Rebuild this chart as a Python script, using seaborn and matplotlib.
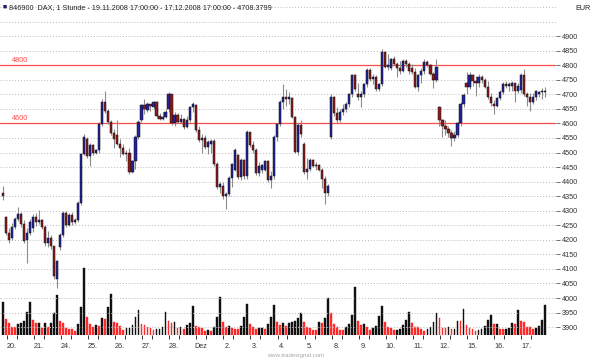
import numpy as np
import pandas as pd
import matplotlib
matplotlib.use("Agg")
import matplotlib.pyplot as plt
import seaborn as sns

# ---------------- data ----------------
day_labels = ["20.", "21.", "24.", "25.", "26.", "27.", "28.", "Dez", "2.", "3.",
              "4.", "5.", "8.", "9.", "10.", "11.", "12.", "15.", "16.", "17."]

opens = [4362,
 4278, 4225, 4205, 4245, 4272, 4290, 4255, 4200, 4225,
 4240, 4278, 4262, 4268, 4245, 4188, 4205, 4178, 4065,
 4175, 4218, 4292, 4252, 4285, 4262, 4268, 4325, 4495,
 4548, 4488, 4525, 4500, 4508, 4598, 4675, 4642, 4605,
 4568, 4560, 4530, 4515, 4495, 4500, 4432, 4470, 4552,
 4610, 4662, 4645, 4665, 4658, 4672, 4625, 4615, 4622,
 4648, 4700, 4600, 4630, 4605, 4615, 4588, 4610, 4655,
 4662, 4578, 4542, 4550, 4518, 4530, 4538, 4462, 4382,
 4385, 4352, 4358, 4412, 4440, 4490, 4415, 4475, 4418,
 4570, 4525, 4510, 4428, 4440, 4440, 4470, 4405, 4418,
 4555, 4598, 4675, 4692, 4685, 4688, 4622, 4502, 4595,
 4530, 4432, 4445, 4475, 4455, 4458, 4440, 4410, 4360,
 4555, 4690, 4635, 4610, 4640, 4650, 4668, 4700, 4765,
 4700, 4690, 4700, 4735, 4785, 4752, 4760, 4718, 4735,
 4845, 4795, 4790, 4820, 4805, 4790, 4780, 4815, 4805,
 4790, 4778, 4725, 4765, 4780, 4812, 4800, 4770, 4748,
 4655, 4612, 4590, 4580, 4568, 4550, 4560, 4600, 4665,
 4740, 4725, 4768, 4745, 4738, 4760, 4750, 4725, 4692,
 4668, 4660, 4688, 4708, 4735, 4728, 4730, 4738, 4712,
 4715, 4765, 4702, 4690, 4672, 4690, 4700, 4708, 4712]

highs = [4384,
 4282, 4240, 4258, 4280, 4312, 4295, 4268, 4242, 4270,
 4288, 4292, 4302, 4272, 4250, 4232, 4215, 4180, 4132,
 4225, 4298, 4300, 4292, 4295, 4275, 4332, 4500, 4565,
 4552, 4534, 4530, 4512, 4605, 4685, 4712, 4648, 4610,
 4580, 4612, 4545, 4530, 4510, 4515, 4475, 4560, 4612,
 4668, 4684, 4672, 4668, 4678, 4676, 4635, 4640, 4648,
 4708, 4702, 4638, 4635, 4632, 4620, 4625, 4660, 4672,
 4668, 4590, 4565, 4560, 4542, 4548, 4545, 4466, 4400,
 4398, 4365, 4418, 4465, 4515, 4495, 4480, 4478, 4578,
 4572, 4540, 4515, 4466, 4462, 4475, 4474, 4438, 4560,
 4602, 4680, 4735, 4718, 4708, 4690, 4625, 4600, 4612,
 4535, 4480, 4480, 4478, 4468, 4462, 4448, 4420, 4392,
 4700, 4695, 4655, 4650, 4665, 4675, 4705, 4770, 4770,
 4740, 4710, 4740, 4790, 4790, 4770, 4765, 4740, 4855,
 4850, 4840, 4825, 4830, 4810, 4815, 4820, 4822, 4810,
 4805, 4790, 4770, 4790, 4820, 4818, 4805, 4778, 4822,
 4660, 4615, 4612, 4590, 4578, 4575, 4605, 4672, 4705,
 4775, 4775, 4770, 4762, 4770, 4765, 4755, 4745, 4705,
 4680, 4692, 4715, 4742, 4745, 4742, 4745, 4740, 4738,
 4772, 4788, 4708, 4705, 4705, 4715, 4712, 4722, 4725]

lows = [4336,
 4215, 4190, 4198, 4238, 4265, 4245, 4190, 4120, 4215,
 4228, 4248, 4255, 4238, 4180, 4175, 4170, 4065, 4035,
 4165, 4210, 4245, 4246, 4250, 4255, 4262, 4318, 4490,
 4480, 4455, 4490, 4495, 4500, 4590, 4635, 4598, 4560,
 4515, 4525, 4485, 4490, 4470, 4425, 4428, 4445, 4545,
 4605, 4632, 4640, 4643, 4650, 4620, 4612, 4612, 4618,
 4640, 4595, 4592, 4600, 4602, 4582, 4585, 4605, 4640,
 4572, 4535, 4500, 4512, 4495, 4500, 4455, 4375, 4360,
 4340, 4305, 4352, 4380, 4435, 4410, 4405, 4410, 4410,
 4520, 4500, 4422, 4420, 4428, 4435, 4400, 4378, 4410,
 4540, 4592, 4650, 4660, 4665, 4618, 4498, 4492, 4555,
 4425, 4410, 4438, 4450, 4440, 4435, 4378, 4322, 4350,
 4548, 4625, 4600, 4605, 4630, 4640, 4655, 4690, 4710,
 4680, 4655, 4690, 4725, 4745, 4735, 4712, 4710, 4728,
 4790, 4785, 4785, 4800, 4760, 4770, 4775, 4795, 4770,
 4770, 4720, 4712, 4740, 4770, 4795, 4765, 4722, 4742,
 4590, 4555, 4560, 4555, 4522, 4540, 4555, 4592, 4655,
 4700, 4718, 4728, 4694, 4725, 4740, 4720, 4685, 4660,
 4632, 4655, 4680, 4700, 4720, 4712, 4712, 4672, 4705,
 4705, 4695, 4660, 4642, 4668, 4682, 4690, 4685, 4692]

closes = [4352,
 4225, 4200, 4245, 4272, 4290, 4255, 4195, 4225, 4262,
 4278, 4262, 4268, 4245, 4188, 4205, 4178, 4075, 4128,
 4218, 4292, 4252, 4285, 4262, 4268, 4325, 4495, 4555,
 4488, 4525, 4500, 4508, 4598, 4675, 4642, 4605, 4568,
 4545, 4530, 4515, 4495, 4500, 4432, 4470, 4552, 4605,
 4662, 4650, 4665, 4660, 4672, 4625, 4615, 4622, 4640,
 4700, 4600, 4630, 4605, 4615, 4588, 4610, 4655, 4668,
 4578, 4542, 4550, 4518, 4535, 4538, 4462, 4382, 4392,
 4352, 4358, 4412, 4460, 4510, 4415, 4475, 4418, 4570,
 4525, 4510, 4428, 4455, 4458, 4470, 4405, 4420, 4555,
 4598, 4675, 4692, 4685, 4690, 4622, 4502, 4595, 4565,
 4432, 4445, 4475, 4455, 4458, 4440, 4410, 4360, 4385,
 4690, 4635, 4610, 4640, 4650, 4668, 4700, 4765, 4718,
 4690, 4700, 4735, 4785, 4752, 4760, 4718, 4735, 4845,
 4795, 4800, 4820, 4805, 4790, 4780, 4815, 4805, 4780,
 4778, 4725, 4765, 4780, 4812, 4800, 4770, 4748, 4795,
 4612, 4590, 4580, 4568, 4550, 4560, 4600, 4665, 4698,
 4725, 4768, 4745, 4738, 4760, 4750, 4725, 4692, 4670,
 4660, 4688, 4708, 4735, 4728, 4735, 4738, 4712, 4728,
 4765, 4702, 4690, 4672, 4690, 4710, 4708, 4712, 4708.38]

volume = [100,
 48, 35, 25, 24, 32, 37, 42, 68, 98,
 45, 35, 37, 22, 35, 25, 35, 65, 120,
 43, 35, 22, 18, 17, 13, 33, 85, 201,
 55, 32, 25, 30, 27, 52, 49, 83, 123,
 38, 37, 28, 15, 21, 22, 30, 55, 75,
 33, 29, 25, 22, 15, 17, 18, 25, 70,
 42, 35, 39, 20, 25, 18, 30, 37, 87,
 27, 23, 22, 13, 15, 13, 25, 53, 115,
 40, 25, 27, 20, 19, 18, 27, 55, 93,
 32, 25, 18, 20, 22, 17, 32, 55, 90,
 40, 30, 35, 28, 35, 38, 41, 50, 65,
 40, 23, 22, 15, 14, 38, 35, 50, 112,
 65, 32, 25, 15, 14, 25, 33, 60, 143,
 42, 30, 33, 23, 15, 20, 28, 58, 87,
 39, 25, 22, 14, 15, 17, 30, 45, 70,
 35, 25, 24, 17, 13, 18, 25, 40, 65,
 50, 22, 21, 25, 18, 19, 43, 41, 77,
 30, 22, 17, 13, 15, 18, 27, 45, 60,
 32, 33, 19, 17, 18, 20, 35, 33, 74,
 42, 39, 25, 23, 18, 20, 27, 45, 90]

price_ticks = list(range(3900, 4901, 50))
grid_levels = list(range(3900, 5001, 50))
marked_levels = [4800, 4600]
bars_per_day = 9
header = "846900  DAX, 1 Stunde - 19.11.2008 17:00:00 - 17.12.2008 17:00:00 - 4708.3799"

# ---------------- build frame ----------------
n = len(closes)
df = pd.DataFrame({"i": np.arange(n), "o": opens, "h": highs, "l": lows,
                   "c": closes, "v": volume})
df["up"] = df["c"] >= df["o"]
prev_v = df["v"].shift(1).fillna(-1)
df["vrise"] = df["v"] > prev_v

# ---------------- style ----------------
sns.set_theme(style="white")
plt.rcParams["font.family"] = ["Liberation Sans", "DejaVu Sans"]

W, H = 595, 361
fig = plt.figure(figsize=(W / 100, H / 100), dpi=100)
fig.patch.set_facecolor("white")
ax_bottom_px = 335
ax_right_px = 556
ax = fig.add_axes([0, (H - ax_bottom_px) / H, ax_right_px / W, ax_bottom_px / H])
ax2 = ax.twinx()

px_per_bar = 3.01
x0_px = 3.0
xlim = (-x0_px / px_per_bar, (ax_right_px - x0_px) / px_per_bar)

# volume (background twin axis), one bar per hour
sns.barplot(data=df, x="i", y="v", native_scale=True, color="#111111",
            width=0.6, errorbar=None, ax=ax2, zorder=1)
vol_colors = np.where(df["vrise"], "#111111", "#ff2a2a")
bar_patches = sorted(ax2.patches, key=lambda p: p.get_x())
for patch, col in zip(bar_patches, vol_colors):
    patch.set_facecolor(col)
    patch.set_edgecolor(col)
    patch.set_linewidth(0.3)
ax2.set_ylim(0, ax_bottom_px * 3)
ax2.set_yticks([])
ax2.set_ylabel("")
ax2.set_xlabel("")

# price axis above volume axis
ax.set_zorder(ax2.get_zorder() + 1)
ax.patch.set_visible(False)

for lev in grid_levels:
    ax.axhline(lev, color="#b8b8b8", lw=0.7, ls=(0, (1, 2)), zorder=0)
for lev in marked_levels:
    ax.axhline(lev, color="#ff4a4a", lw=0.9, zorder=1)
    ax.text((12 - x0_px) / px_per_bar, lev + 4, str(lev), color="#ff4a4a",
            fontsize=5.2, ha="left", va="bottom", zorder=4)

# candles
ax.vlines(df["i"], df["l"], df["h"], color="#8c8c8c", lw=0.8, zorder=2)
body_lo = np.minimum(df["o"], df["c"])
body_h = np.maximum(np.abs(df["c"] - df["o"]), 2.0)
ax.bar(df["i"], body_h, bottom=body_lo, width=0.72,
       color=np.where(df["up"], "#23239c", "#8e1b1b"),
       edgecolor="#111111", linewidth=0.35, zorder=3)

ax.set_xlim(*xlim)
ax2.set_xlim(*xlim)
ax.set_ylim(3873, 5024)

# axes decoration
for a in (ax, ax2):
    for s in a.spines.values():
        s.set_visible(False)
ax.yaxis.tick_right()
ax.set_yticks(price_ticks)
ax.set_yticklabels([str(p) for p in price_ticks])
ax.tick_params(axis="y", which="both", length=3, width=0.6, color="#555555",
               pad=1.2, labelsize=5.2, labelcolor="#333333", right=True, left=False)

day_starts = [1 + bars_per_day * d for d in range(len(day_labels))]
ax.set_xticks([s + 1.8 for s in day_starts])
ax.set_xticklabels(day_labels)
ax.set_xticks([s + 0.2 for s in day_starts] + [s + 3.5 for s in day_starts], minor=True)
ax.tick_params(axis="x", which="major", length=0, pad=5.5, labelsize=5.2,
               labelcolor="#333333", bottom=True)
ax.tick_params(axis="x", which="minor", length=3, width=0.7, color="#333333",
               bottom=True, direction="out")
ax2.tick_params(axis="x", which="both", length=0, labelbottom=False)
ax.set_xlabel("")
ax.set_ylabel("")
ax.grid(False)
ax2.grid(False)

# header / footer texts
fig.text(2.5 / W, 1 - 7.5 / H, "\u25A0", color="#1c1c6a", fontsize=5, va="center", ha="left")
fig.text(9 / W, 1 - 7.5 / H, header, color="#222222", fontsize=5.2, va="center", ha="left")
fig.text(575 / W, 1 - 8 / H, "EUR", color="#222222", fontsize=5.2, va="center", ha="left")
fig.text(296 / W, 1 - 355 / H, "www.tradesignal.com", color="#a8a8a8", fontsize=4.3,
         va="center", ha="center")

fig.savefig("out.png", dpi=100, facecolor="white")
